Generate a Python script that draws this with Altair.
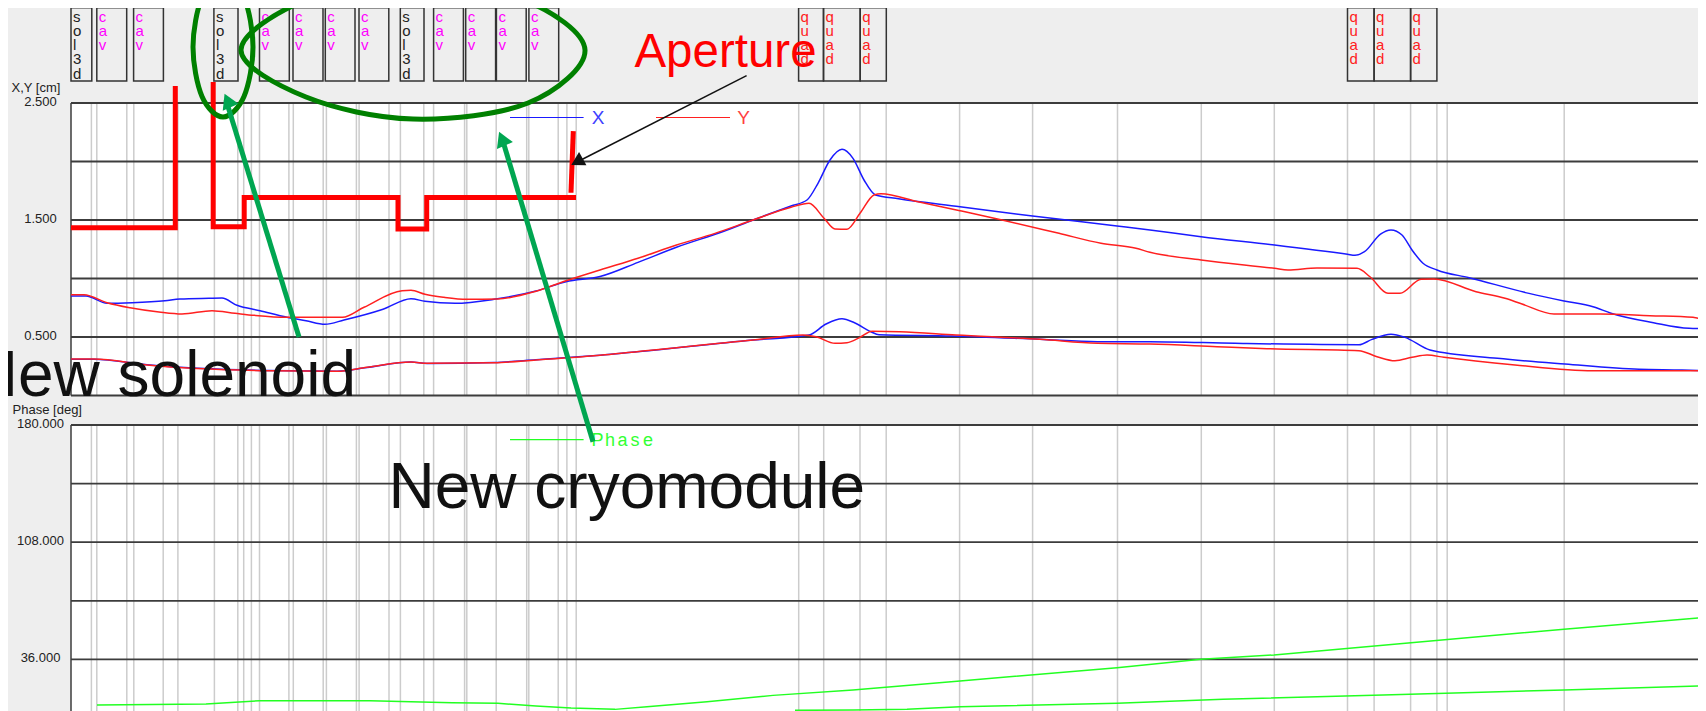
import altair as alt
import pandas as pd

# --- element strip along the beamline (x = position along the line)
element_names = ["sol3d", "cav", "cav", "sol3d", "cav", "cav", "cav", "cav", "sol3d", "cav", "cav", "cav", "cav",
                 "quad", "quad", "quad", "quad", "quad", "quad"]
element_start = [71, 96.8, 133.6, 213.9, 259.5, 293, 325.3, 359, 400.3, 433.6, 465.7, 496.4, 528.9,
                 798.6, 823.5, 860.2, 1347.5, 1374.1, 1410.6]
element_end = [91.8, 126.7, 163.4, 238, 289.3, 323, 355, 388.8, 424, 463.4, 495.6, 526.2, 558.7,
               823.5, 860.2, 886.3, 1374.1, 1410.6, 1436.9]
element_colors = {"sol3d": "#222222", "cav": "#ff00ff", "quad": "#ff2020"}
letter_rows = [16.7, 31, 45, 59.3, 74]

# --- vertical gridlines
v_lines = [91.4, 96.8, 126.8, 133.8, 163.2, 177.9, 214.4, 237.8, 243.7, 251.4, 259.5, 288.9, 293.3, 323.2, 326.4,
           356.4, 359.1, 389, 400.4, 423.8, 433.6, 464.6, 466.8, 496.2, 526.7, 528.8, 558.2, 566.9, 576.2,
           798.7, 823.7, 860, 886.2, 959.6, 1032.6, 1117.5, 1201.3, 1274.3, 1347.5, 1374.1, 1410.6, 1436.9, 1447.2, 1564.2]

# --- envelope X,Y [cm]
upper_x_z = [71, 86, 107, 132, 165, 180, 209, 222, 237, 260, 287, 306, 325, 344, 383, 411, 425, 455, 494, 536, 566, 600,
             638, 676.5, 722.5, 753, 791, 807, 818, 830, 842, 853, 864, 875.5, 898.5, 960, 1032.5, 1117, 1150, 1201,
             1274.5, 1347.5, 1355, 1364.5, 1380.5, 1391, 1402, 1412, 1423, 1437, 1469, 1529, 1564, 1593, 1611, 1653.5, 1689, 1706]
upper_x_v = [.850, .850, .788, .793, .810, .825, .831, .833, .771, .725, .668, .639, .609, .645, .737, .827, .805, .788, .822, .893, .973, 1.017,
             1.138, 1.267, 1.400, 1.5, 1.620, 1.671, 1.814, 2.013, 2.104, 2.027, 1.842, 1.714, 1.682, 1.614, 1.534, 1.449, 1.415, 1.357,
             1.286, 1.207, 1.198, 1.229, 1.380, 1.415, 1.372, 1.244, 1.130, 1.073, 1.007, .873, .808, .759, .703, .622, .574, .571]
upper_y_z = [71, 84, 107, 130, 159, 182, 212, 235, 254.5, 287, 342.5, 364, 402, 411, 425, 444, 467, 497.5, 536, 566, 600,
             638, 676.5, 715, 753, 791, 809, 824, 835, 847, 860, 874, 881, 918, 960, 1002, 1059, 1101, 1136, 1150, 1201,
             1274.5, 1288, 1317, 1357, 1370, 1388, 1400, 1421, 1434, 1476, 1505, 1522, 1554, 1600, 1650, 1693, 1699, 1706]
upper_y_v = [.862, .862, .793, .750, .714, .697, .725, .703, .685, .668, .668, .754, .896, .899, .865, .839, .822, .825, .891, .981, 1.073,
             1.173, 1.286, 1.386, 1.5, 1.609, 1.643, 1.515, 1.423, 1.421, 1.557, 1.714, 1.725, 1.656, 1.579, 1.5, 1.386, 1.301, 1.258, 1.224, 1.158,
             1.087, 1.073, 1.090, 1.087, 1.015, .873, .873, .993, .996, .887, .831, .782, .697, .697, .682, .668, .660, .674]
lower_x_z = [71, 94, 147, 268, 337, 367, 411, 427, 494, 536, 600, 753, 809, 826, 842, 854.5, 871, 879, 952, 1040, 1097.5, 1150,
             1235, 1359, 1372, 1391, 1405, 1430, 1497.5, 1565, 1639, 1682, 1706]
lower_x_v = [.31, .31, .262, .213, .208, .24, .287, .273, .282, .305, .344, .474, .517, .611, .656, .622, .545, .520, .509, .480, .460, .460,
             .446, .434, .480, .523, .497, .389, .318, .269, .224, .218, .212]
lower_y_z = [71, 94, 147, 268, 337, 367, 411, 427, 494, 536, 600, 676.5, 753, 803, 816, 835, 847, 860, 872, 900, 956, 1040, 1097.5, 1150,
             1217, 1267, 1359, 1377, 1395, 1412, 1427, 1444, 1515, 1593, 1706]
lower_y_v = [.312, .312, .261, .212, .207, .241, .286, .275, .280, .303, .344, .409, .474, .517, .503, .446, .451, .497, .549, .545, .517, .480, .446, .440,
             .417, .400, .383, .332, .297, .326, .346, .326, .261, .212, .212]

# --- aperture (thick red)
ap1_z = [71, 175.3, 175.3]
ap1_v = [1.434, 1.434, 2.645]
ap2_z = [213.2, 213.2, 244.2, 244.2, 398, 398, 426.7, 426.7, 576]
ap2_v = [2.68, 1.443, 1.443, 1.692, 1.692, 1.423, 1.423, 1.692, 1.692]
ap3_z = [571, 573.3]
ap3_v = [1.733, 2.26]

# --- phase [deg]
phase1_z = [97, 206, 259.5, 370, 452, 498, 536, 571, 615, 647, 707, 773, 853, 960, 1117, 1201, 1274, 1411, 1564, 1706]
phase1_v = [8.0, 8.6, 10.6, 10.6, 9.4, 9.0, 7.4, 6.1, 5.3, 6.9, 10.0, 13.9, 17.2, 22.7, 30.9, 36.1, 38.7, 46.3, 54.5, 61.9]
phase2_z = [795, 853, 907, 960, 1117, 1223, 1383, 1564, 1706]
phase2_v = [4.7, 4.9, 5.3, 6.9, 9.0, 11.5, 14.1, 17.2, 19.8]

# --- axis ticks
cm_grid = [2.5, 2.0, 1.5, 1.0, 0.5, 0.0]
cm_labels = [2.5, 1.5, 0.5]
deg_grid = [180, 144, 108, 72, 36, 0]
deg_labels = [180, 108, 36]

# --- hand annotations (page position)
small_ring_x = [253, 244, 223, 202, 193, 202, 223, 244]
small_ring_y = [47, 96.5, 117, 96.5, 47, -2.5, -23, -2.5]
big_ring_x = [585, 528, 413, 306, 241, 306, 413, 524]
big_ring_y = [50, 103, 119, 97, 50, 0, -19, 0]
arrow_sol_x = [299, 226]
arrow_sol_y = [337, 100]
arrow_cry_x = [593, 502]
arrow_cry_y = [441.7, 138]
arrow_ap_x = [746.6, 577]
arrow_ap_y = [75.7, 162]
phase_letters = ["P", "h", "a", "s", "e"]
phase_letter_x = [597.5, 610, 622.5, 635, 648]

W, H = 1690, 703
FONT = "Liberation Sans"
AX = alt.Scale(domain=[8, 8 + W], range=[0, W], nice=False, zero=False)
CM = alt.Scale(domain=[0, 2.5], range=[395.5 - 8, 103 - 8], nice=False, zero=False)
DEG = alt.Scale(domain=[0, 180], range=[718 - 8, 425 - 8], nice=False, zero=False)
PAGE = alt.Scale(domain=[8, 711], range=[0, H], nice=False, zero=False)


def xe(f="x"):
    return alt.X(f"{f}:Q", scale=AX, axis=None)


def ye(scale, f="y"):
    return alt.Y(f"{f}:Q", scale=scale, axis=None)


def line(xs, ys, scale, color, width, **kw):
    d = pd.DataFrame({"x": xs, "y": ys, "i": range(len(xs))})
    return alt.Chart(d).mark_line(color=color, strokeWidth=width, **kw).encode(
        xe(), ye(scale), order="i:Q")


def panel(scale, grid, top, bottom):
    bg = alt.Chart(pd.DataFrame({"x": [71], "x2": [1706], "y": [top], "y2": [bottom]})).mark_rect(
        color="#ffffff").encode(xe(), x2="x2:Q", y=ye(scale), y2="y2:Q")
    vl = alt.Chart(pd.DataFrame({"x": v_lines, "y": top, "y2": bottom})).mark_rule(
        color="#cccccc", strokeWidth=1.5).encode(xe(), y=ye(scale), y2="y2:Q")
    hl = alt.Chart(pd.DataFrame({"y": grid, "x": 71, "x2": 1706})).mark_rule(
        color="#3c3c3c", strokeWidth=1.8).encode(xe(), x2="x2:Q", y=ye(scale))
    left = alt.Chart(pd.DataFrame({"x": [71], "y": [top], "y2": [bottom]})).mark_rule(
        color="#3c3c3c", strokeWidth=1.5).encode(xe(), y=ye(scale), y2="y2:Q")
    return [bg, vl, hl, left]


def ticklabels(values, scale, fmt):
    d = pd.DataFrame({"y": values, "t": [fmt % v for v in values], "x": 40.5})
    return alt.Chart(d).mark_text(font=FONT, fontSize=13, align="center", baseline="middle", color="#222222", dy=-1).encode(
        xe(), ye(scale), text="t:N")


def label(x, y, t, size, color, align="left", baseline="middle"):
    d = pd.DataFrame({"x": [x], "y": [y], "t": [t]})
    return alt.Chart(d).mark_text(font=FONT, fontSize=size, align=align, baseline=baseline, color=color).encode(
        xe(), ye(PAGE), text="t:N")


def head(x, y, angle, color, size):
    d = pd.DataFrame({"x": [x], "y": [y]})
    return alt.Chart(d).mark_point(shape="triangle-up", filled=True, opacity=1, color=color, size=size,
                                   angle=angle, strokeWidth=0).encode(xe(), ye(PAGE))


boxes = pd.DataFrame({"x": element_start, "x2": element_end, "n": element_names})
letters = pd.DataFrame([
    {"x": s, "y": letter_rows[k], "t": ch, "c": element_colors[n]}
    for n, s in zip(element_names, element_start) for k, ch in enumerate(n)
])

layers = []
layers += panel(CM, cm_grid, 2.5, 0.0)
layers += panel(DEG, deg_grid, 180, 0)

# element strip
layers.append(alt.Chart(boxes).mark_rect(fillOpacity=0, stroke="#333333", strokeWidth=1.5).encode(
    xe(), x2="x2:Q", y=alt.value(7.7 - 8), y2=alt.value(81 - 8)))
layers.append(alt.Chart(letters).mark_text(font=FONT, fontSize=15, align="left", baseline="middle", dx=2).encode(
    xe(), ye(PAGE), text="t:N", color=alt.Color("c:N", scale=None)))

# aperture
for z, v in [(ap1_z, ap1_v), (ap2_z, ap2_v), (ap3_z, ap3_v)]:
    layers.append(line(z, v, CM, "#ff0000", 5))

# envelopes
BLUE, RED, GREEN = "#1a1aff", "#ff2020", "#22ff22"
layers.append(line(upper_x_z, upper_x_v, CM, BLUE, 1.5, interpolate="monotone"))
layers.append(line(lower_x_z, lower_x_v, CM, BLUE, 1.5, interpolate="monotone"))
layers.append(line(upper_y_z, upper_y_v, CM, RED, 1.5, interpolate="monotone"))
layers.append(line(lower_y_z, lower_y_v, CM, RED, 1.5, interpolate="monotone"))
layers.append(line(phase1_z, phase1_v, DEG, GREEN, 1.5))
layers.append(line(phase2_z, phase2_v, DEG, GREEN, 1.5))

# legends inside the plots
layers.append(line([510, 583.6], [117.5, 117.5], PAGE, BLUE, 1.2))
layers.append(line([656, 730], [117.5, 117.5], PAGE, RED, 1.2))
layers.append(line([510, 583.6], [439.7, 439.7], PAGE, GREEN, 1.2))
layers.append(label(598, 118, "X", 19, "#4040ff", align="center"))
layers.append(label(743.5, 118, "Y", 19, "#ff4040", align="center"))
layers.append(alt.Chart(pd.DataFrame({"x": phase_letter_x, "y": 441, "t": phase_letters})).mark_text(
    font=FONT, fontSize=18, align="center", baseline="middle", color="#33ff33").encode(
    xe(), ye(PAGE), text="t:N"))

# axis titles and tick labels
layers.append(label(11.5, 88, "X,Y [cm]", 13, "#222222"))
layers.append(label(12.6, 410, "Phase [deg]", 13, "#222222"))
layers.append(ticklabels(cm_labels, CM, "%.3f"))
layers.append(ticklabels(deg_labels, DEG, "%.3f"))

# annotations
layers.append(line(small_ring_x, small_ring_y, PAGE, "#008000", 5, interpolate="cardinal-closed"))
layers.append(line(big_ring_x, big_ring_y, PAGE, "#008000", 5, interpolate="cardinal-closed"))
layers.append(line(arrow_sol_x, arrow_sol_y, PAGE, "#00a651", 5))
layers.append(head(227.6, 100.5, 336, "#00a651", 300))
layers.append(line(arrow_cry_x, arrow_cry_y, PAGE, "#00a651", 5))
layers.append(head(502, 138.6, 337, "#00a651", 300))
layers.append(line(arrow_ap_x, arrow_ap_y, PAGE, "#111111", 1.5))
layers.append(head(577, 161.8, 241, "#111111", 230))
layers.append(label(634.4, 66.7, "Aperture", 47.5, "#ff0000", baseline="alphabetic"))
layers.append(label(356, 395.7, "New solenoid", 64, "#111111", align="right", baseline="alphabetic"))
layers.append(label(388.5, 508.3, "New cryomodule", 64, "#111111", baseline="alphabetic"))

chart = alt.layer(*layers).resolve_scale(y="independent").properties(
    width=W, height=H, padding=0, background="#eeeeee",
    autosize=alt.AutoSizeParams(type="none"),
).configure_view(stroke=None)

chart.save("out.html", embed_options={"renderer": "svg", "actions": False})
